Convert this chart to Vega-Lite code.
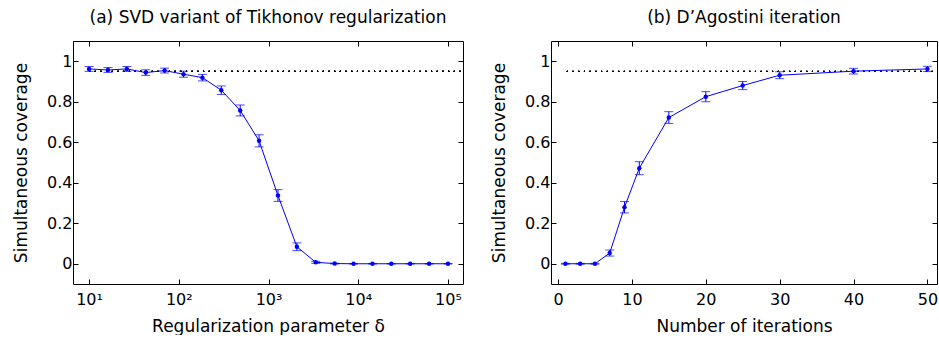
{
  "$schema": "https://vega.github.io/schema/vega-lite/v6.json",
  "background": "white",
  "padding": {"left": 12, "top": 8, "right": 0, "bottom": 0},
  "spacing": 26,
  "config": {
    "font": "DejaVu Sans",
    "view": {"stroke": "black", "strokeWidth": 1},
    "axis": {"grid": false, "domain": false, "tickColor": "black", "tickSize": -5, "labelColor": "black", "labelFontSize": 16, "titleFontSize": 17, "titleFontWeight": "normal", "titleColor": "black"},
    "axisX": {"labelPadding": 12, "titlePadding": 11},
    "axisY": {"labelPadding": 6, "titlePadding": 16},
    "title": {"fontSize": 17, "fontWeight": "normal", "color": "black", "offset": 14}
  },
  "datasets": {
    "a": [
      {"x": 10, "y": 0.962, "e": 0.012},
      {"x": 16.24, "y": 0.957, "e": 0.012},
      {"x": 26.37, "y": 0.962, "e": 0.012},
      {"x": 42.81, "y": 0.944, "e": 0.014},
      {"x": 69.52, "y": 0.954, "e": 0.012},
      {"x": 112.9, "y": 0.936, "e": 0.015},
      {"x": 183.3, "y": 0.919, "e": 0.016},
      {"x": 297.6, "y": 0.857, "e": 0.021},
      {"x": 483.3, "y": 0.757, "e": 0.027},
      {"x": 784.8, "y": 0.607, "e": 0.03},
      {"x": 1274, "y": 0.337, "e": 0.029},
      {"x": 2069, "y": 0.084, "e": 0.019},
      {"x": 3360, "y": 0.007, "e": 0.005},
      {"x": 5456, "y": 0.001, "e": 0.002},
      {"x": 8859, "y": 0, "e": 0.001},
      {"x": 14384, "y": 0, "e": 0.001},
      {"x": 23357, "y": 0, "e": 0.001},
      {"x": 37927, "y": 0, "e": 0.001},
      {"x": 61585, "y": 0, "e": 0.001},
      {"x": 100000, "y": 0, "e": 0.001}
    ],
    "b": [
      {"x": 1, "y": 0, "e": 0.002},
      {"x": 3, "y": 0, "e": 0.002},
      {"x": 5, "y": 0, "e": 0.002},
      {"x": 7, "y": 0.053, "e": 0.015},
      {"x": 9, "y": 0.279, "e": 0.028},
      {"x": 11, "y": 0.472, "e": 0.032},
      {"x": 15, "y": 0.722, "e": 0.029},
      {"x": 20, "y": 0.825, "e": 0.025},
      {"x": 25, "y": 0.88, "e": 0.02},
      {"x": 30, "y": 0.931, "e": 0.017},
      {"x": 40, "y": 0.951, "e": 0.014},
      {"x": 50, "y": 0.962, "e": 0.013}
    ]
  },
  "hconcat": [
    {
      "width": 390,
      "height": 243,
      "title": "(a) SVD variant of Tikhonov regularization",
      "data": {"name": "a"},
      "resolve": {"axis": {"x": "independent", "y": "independent"}},
      "layer": [
        {
          "mark": {"type": "rule", "color": "black", "strokeDash": [1, 4.7], "strokeWidth": 1},
          "encoding": {
            "x": {"datum": 10, "type": "quantitative", "scale": {"type": "log", "domain": [6.62, 147000], "nice": false}, "axis": null},
            "x2": {"datum": 140000},
            "y": {"datum": 0.95, "type": "quantitative", "scale": {"domain": [-0.1, 1.1], "nice": false, "zero": false}, "axis": null}
          }
        },
        {
          "mark": {"type": "line", "color": "#0000ff", "strokeWidth": 1},
          "encoding": {
            "x": {"field": "x", "type": "quantitative", "scale": {"type": "log", "domain": [6.62, 147000], "nice": false},
                  "axis": {"values": [10, 100, 1000, 10000, 100000], "title": "Regularization parameter δ", "labelExpr": "'10' + ['⁰','¹','²','³','⁴','⁵'][round(log(datum.value)/LN10)]"}},
            "y": {"field": "y", "type": "quantitative", "scale": {"domain": [-0.1, 1.1], "nice": false, "zero": false},
                  "axis": {"values": [0, 0.2, 0.4, 0.6, 0.8, 1], "format": "~g", "title": "Simultaneous coverage"}}
          }
        },
        {
          "mark": {"type": "errorbar", "color": "#0000ff", "ticks": {"size": 9}},
          "encoding": {
            "x": {"field": "x", "type": "quantitative", "scale": {"type": "log", "domain": [6.62, 147000], "nice": false}, "axis": null},
            "y": {"field": "y", "type": "quantitative", "scale": {"domain": [-0.1, 1.1], "nice": false, "zero": false}, "axis": null},
            "yError": {"field": "e"}
          }
        },
        {
          "mark": {"type": "point", "filled": true, "color": "#0000ff", "size": 20, "opacity": 1},
          "encoding": {
            "x": {"field": "x", "type": "quantitative", "scale": {"type": "log", "domain": [6.62, 147000], "nice": false},
                  "axis": {"orient": "top", "labels": false, "title": null, "values": [10, 100, 1000, 10000, 100000]}},
            "y": {"field": "y", "type": "quantitative", "scale": {"domain": [-0.1, 1.1], "nice": false, "zero": false},
                  "axis": {"orient": "right", "labels": false, "title": null, "values": [0, 0.2, 0.4, 0.6, 0.8, 1]}}
          }
        }
      ]
    },
    {
      "width": 386,
      "height": 243,
      "title": "(b) D’Agostini iteration",
      "data": {"name": "b"},
      "resolve": {"axis": {"x": "independent", "y": "independent"}},
      "layer": [
        {
          "mark": {"type": "rule", "color": "black", "strokeDash": [1, 4.7], "strokeWidth": 1},
          "encoding": {
            "x": {"datum": 1.2, "type": "quantitative", "scale": {"domain": [-0.95, 51.3], "nice": false, "zero": false}, "axis": null},
            "x2": {"datum": 51.3},
            "y": {"datum": 0.95, "type": "quantitative", "scale": {"domain": [-0.1, 1.1], "nice": false, "zero": false}, "axis": null}
          }
        },
        {
          "mark": {"type": "line", "color": "#0000ff", "strokeWidth": 1},
          "encoding": {
            "x": {"field": "x", "type": "quantitative", "scale": {"domain": [-0.95, 51.3], "nice": false, "zero": false},
                  "axis": {"values": [0, 10, 20, 30, 40, 50], "title": "Number of iterations"}},
            "y": {"field": "y", "type": "quantitative", "scale": {"domain": [-0.1, 1.1], "nice": false, "zero": false},
                  "axis": {"values": [0, 0.2, 0.4, 0.6, 0.8, 1], "format": "~g", "title": "Simultaneous coverage"}}
          }
        },
        {
          "mark": {"type": "errorbar", "color": "#0000ff", "ticks": {"size": 9}},
          "encoding": {
            "x": {"field": "x", "type": "quantitative", "scale": {"domain": [-0.95, 51.3], "nice": false, "zero": false}, "axis": null},
            "y": {"field": "y", "type": "quantitative", "scale": {"domain": [-0.1, 1.1], "nice": false, "zero": false}, "axis": null},
            "yError": {"field": "e"}
          }
        },
        {
          "mark": {"type": "point", "filled": true, "color": "#0000ff", "size": 20, "opacity": 1},
          "encoding": {
            "x": {"field": "x", "type": "quantitative", "scale": {"domain": [-0.95, 51.3], "nice": false, "zero": false},
                  "axis": {"orient": "top", "labels": false, "title": null, "values": [0, 10, 20, 30, 40, 50]}},
            "y": {"field": "y", "type": "quantitative", "scale": {"domain": [-0.1, 1.1], "nice": false, "zero": false},
                  "axis": {"orient": "right", "labels": false, "title": null, "values": [0, 0.2, 0.4, 0.6, 0.8, 1]}}
          }
        }
      ]
    }
  ]
}
